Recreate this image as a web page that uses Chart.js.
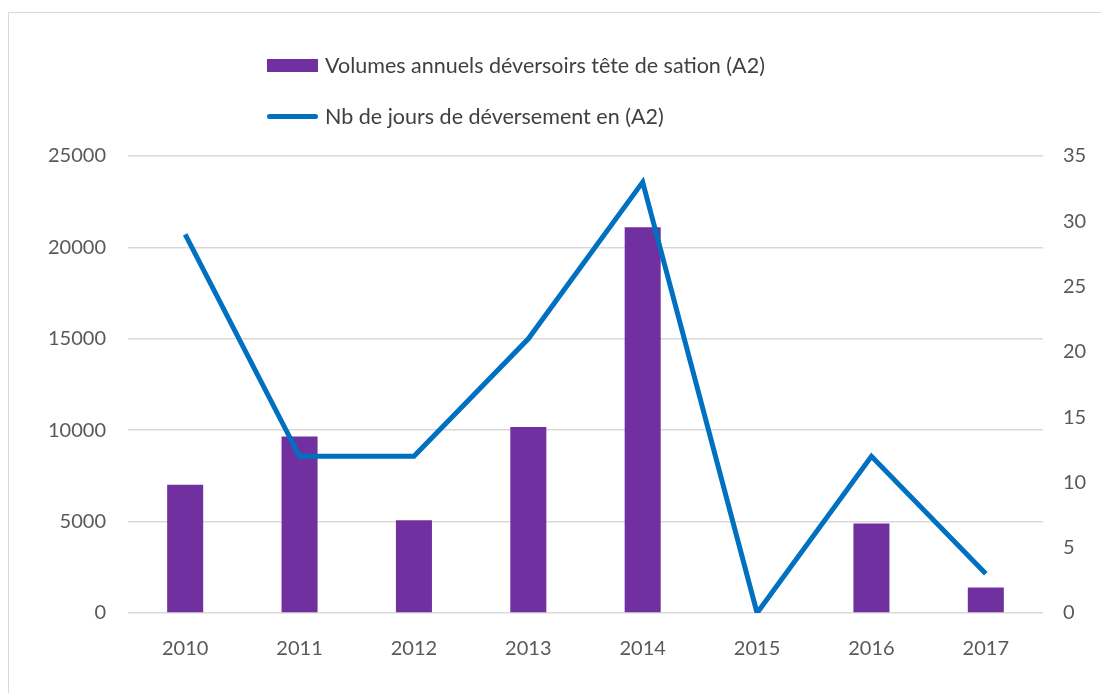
<!DOCTYPE html>
<html>
<head>
<meta charset="utf-8">
<script src="https://cdn.jsdelivr.net/npm/chart.js@4"></script>
<style>
    body { margin: 0; background: #fff; font-family: Lato, sans-serif; }
    #wrap { position: relative; width: 1101px; height: 693px; }
    #frame { position: absolute; left: 8px; top: 12px; width: 1100px; height: 690px; border: 1px solid #d9d9d9; box-sizing: border-box; }
    canvas { position: absolute; left: 0; top: 0; }
    .legend-item { position: absolute; left: 267px; display: flex; align-items: center; font-size: 21.5px; color: #404040; white-space: nowrap; }
    .legend-item .swatch { width: 51px; margin-right: 7px; }
</style>
</head>
<body>
<div id="wrap">
    <div id="frame"></div>
    <canvas id="chart" width="1101" height="693"></canvas>
    <div id="legend"></div>
</div>
<script>
// Chart data
const years = ['2010', '2011', '2012', '2013', '2014', '2015', '2016', '2017'];
const volumes = [7020, 9660, 5070, 10170, 21100, 0, 4900, 1400];
const daysOverflow = [29, 12, 12, 21, 33, 0, 12, 3];
const volumeLabel = 'Volumes annuels déversoirs tête de sation (A2)';
const daysLabel = 'Nb de jours de déversement en (A2)';

const purple = '#7030A0';
const blue = '#0070C0';
const tickColor = '#595959';
const gridColor = '#d9d9d9';

// Legend in HTML, two stacked rows
function buildLegend() {
    const legend = document.getElementById('legend');
    legend.innerHTML = `
        <div class="legend-item" style="top:52px">
            <span class="swatch" style="height:13px;background:${purple}"></span>${volumeLabel}
        </div>
        <div class="legend-item" style="top:103px">
            <span class="swatch" style="height:5px;border-radius:3px;background:${blue}"></span>${daysLabel}
        </div>
    `;
}

function initChart() {
    const ctx = document.getElementById('chart');
    const tickFont = { family: 'Lato', size: 20 };
    const plainNumber = (value) => String(value);

    new Chart(ctx, {
        data: {
            labels: years,
            datasets: [
                {
                    type: 'line',
                    label: daysLabel,
                    data: daysOverflow,
                    yAxisID: 'y1',
                    borderColor: blue,
                    borderWidth: 5,
                    pointRadius: 0,
                    tension: 0,
                    order: 0
                },
                {
                    type: 'bar',
                    label: volumeLabel,
                    data: volumes,
                    yAxisID: 'y',
                    backgroundColor: purple,
                    categoryPercentage: 1,
                    barPercentage: 0.315,
                    order: 1
                }
            ]
        },
        options: {
            responsive: false,
            animation: false,
            layout: { padding: { top: 156, left: 0, right: 0, bottom: 0 } },
            plugins: {
                legend: { display: false },
                tooltip: { enabled: false }
            },
            scales: {
                x: {
                    grid: { display: false },
                    border: { display: false },
                    ticks: { color: tickColor, font: tickFont, padding: 16 },
                    afterFit: (scale) => { scale.height = 80; }
                },
                y: {
                    position: 'left',
                    min: 0,
                    max: 25000,
                    ticks: { stepSize: 5000, color: tickColor, font: tickFont, padding: 22, callback: plainNumber },
                    grid: { color: gridColor, lineWidth: 1.5, drawTicks: false },
                    border: { display: false },
                    afterFit: (scale) => { scale.width = 128; }
                },
                y1: {
                    position: 'right',
                    min: 0,
                    max: 35,
                    ticks: { stepSize: 5, color: tickColor, font: tickFont, padding: 20, callback: plainNumber },
                    grid: { display: false, drawTicks: false },
                    border: { display: false },
                    afterFit: (scale) => { scale.width = 58; }
                }
            }
        }
    });
}

document.addEventListener('DOMContentLoaded', () => {
    buildLegend();
    initChart();
});
</script>
</body>
</html>
